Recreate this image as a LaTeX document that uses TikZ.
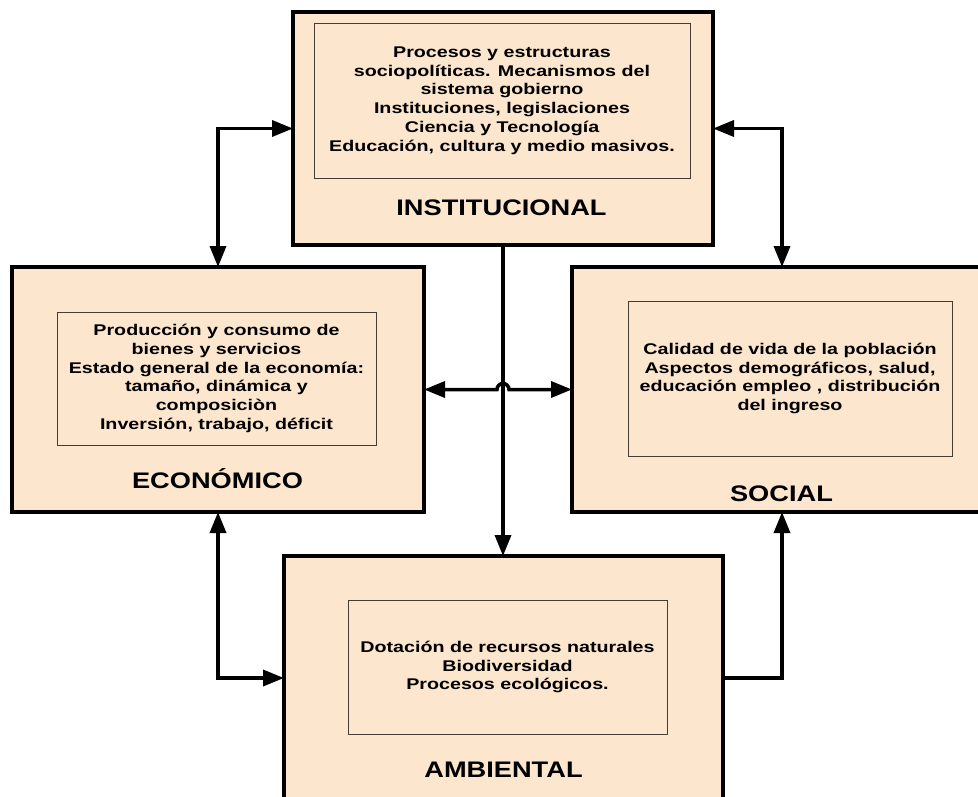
\documentclass[tikz,border=0pt]{standalone}
\usepackage{fontspec}
\usetikzlibrary{arrows.meta}
\newfontfamily\bodyfont{Liberation Sans}[FakeStretch=1.27]
\newfontfamily\labelfont{Liberation Sans}[FakeStretch=1.21]
\definecolor{peach}{RGB}{252,230,206}
\definecolor{innerline}{RGB}{70,60,50}
\begin{document}
\begin{tikzpicture}[x=1pt,y=-1pt,
  >={Triangle[length=21pt,width=16pt]},
  outerbox/.style={draw=black, line width=4pt, fill=peach, rectangle, inner sep=0pt, outer sep=0pt, anchor=north west},
  innerbox/.style={draw=innerline, line width=0.9pt, fill=peach, rectangle, inner sep=0pt, align=center,
    font=\bodyfont\fontsize{15.5}{18.8}\selectfont\bfseries},
  titletext/.style={font=\labelfont\fontsize{22.5}{26}\selectfont\bfseries, inner sep=0pt, anchor=base},
  conn/.style={line width=3.5pt, draw=black}
]
\clip (0,0) rectangle (978,796);
\useasboundingbox (0,0) rectangle (978,796);

\node[outerbox, minimum width=420pt, minimum height=233pt] (inst) at (293,12) {};
\node[outerbox, minimum width=412pt, minimum height=245pt] (econ) at (12,267) {};
\node[outerbox, minimum width=420pt, minimum height=245pt] (social) at (572,267) {};
\node[outerbox, minimum width=439pt, minimum height=244pt] (amb) at (284,556) {};

\node[innerbox, minimum width=376pt, minimum height=155pt] (insttext) at (502,100.5)
  {Procesos y estructuras\\ sociopolíticas. Mecanismos del\\ sistema gobierno\\ Instituciones, legislaciones\\ Ciencia y Tecnología\\ Educación, cultura y medio masivos.};
\node[innerbox, minimum width=319pt, minimum height=133pt] (econtext) at (216.5,378.5)
  {Producción y consumo de\\ bienes y servicios\\ Estado general de la economía:\\ tamaño, dinámica y\\ composiciòn\\ Inversión, trabajo, déficit};
\node[innerbox, minimum width=324pt, minimum height=155pt] (soctext) at (790,378.5)
  {Calidad de vida de la población\\ Aspectos demográficos, salud,\\ educación empleo , distribución\\ del ingreso};
\node[innerbox, minimum width=319pt, minimum height=134pt] (ambtext) at (507.5,667)
  {Dotación de recursos naturales\\ Biodiversidad\\ Procesos ecológicos.};

\node[titletext] (insttitle) at (501.5,215) {INSTITUCIONAL};
\node[titletext] (econtitle) at (217.5,488) {ECONÓMICO};
\node[titletext] (soctitle) at (781.5,501) {SOCIAL};
\node[titletext] (ambtitle) at (503.5,777) {AMBIENTAL};

\draw[conn,<->] (inst.west) -| (econ.north);
\draw[conn,<->] (inst.east) -| (social.north);
\draw[conn,<->] (econ.south) |- (amb.west);
\draw[conn,->] (amb.east) -| (social.south);
\draw[conn,->] (inst.south) -- (inst.south |- amb.north);
\coordinate (hop) at (inst.south |- econ.east);
\draw[conn,<->] (econ.east) -- ([xshift=-6pt]hop) arc[start angle=180,end angle=0,radius=6pt] -- (social.west);
\end{tikzpicture}
\end{document}
